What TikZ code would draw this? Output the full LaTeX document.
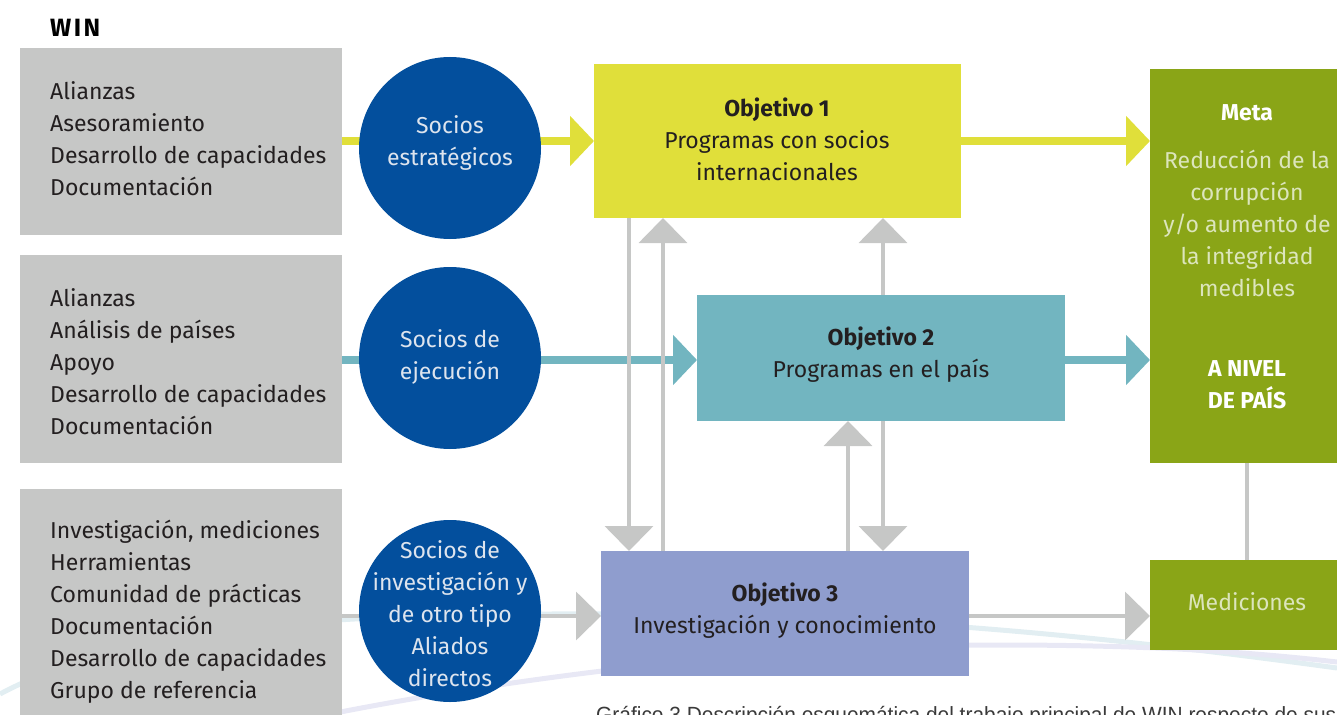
\documentclass[tikz,border=0pt]{standalone}
\usepackage{fontspec}
\setmainfont{Fira Sans}
\newfontfamily\capfont{Liberation Sans}
\usetikzlibrary{arrows.meta,calc}
\definecolor{boxgray}{HTML}{C6C7C6}
\definecolor{ycol}{HTML}{E0DF3A}
\definecolor{tcol}{HTML}{72B5C0}
\definecolor{lcol}{HTML}{8F9DCE}
\definecolor{gcol}{HTML}{8AA517}
\definecolor{ncol}{HTML}{034F9D}
\definecolor{darktxt}{HTML}{231F20}
\definecolor{circtxt}{HTML}{DDE4EE}
\definecolor{metatxt}{HTML}{DCE5BC}
\definecolor{bgblue}{HTML}{E2EEF2}
\definecolor{bglav}{HTML}{E8E8F5}
\definecolor{captxt}{HTML}{3A3A3A}
\tikzset{
  box/.style={draw=none, anchor=north west, inner sep=0pt, outer sep=0pt},
  circ/.style={circle, fill=ncol, draw=none, minimum size=182pt, inner sep=0pt, outer sep=0pt},
  bodytext/.style={inner sep=0pt, font=\fontsize{23}{32}\selectfont},
  listtext/.style={bodytext, anchor=west, align=left, text=darktxt},
  ctext/.style={bodytext, align=center, text=circtxt},
  otext/.style={bodytext, align=center, text=darktxt},
  mtext/.style={bodytext, align=center, text=metatxt},
  bigtip/.style={-{Triangle[width=49pt,length=24pt]}},
  yline/.style={draw=ycol, line width=8pt, bigtip},
  tline/.style={draw=tcol, line width=8pt, bigtip},
  hgline/.style={draw=boxgray, line width=4pt, -{Triangle[width=48pt,length=25pt]}},
  vgline/.style={draw=boxgray, line width=4pt, -{Triangle[width=48pt,length=25pt]}},
  plainline/.style={draw=boxgray, line width=4pt},
}
\begin{document}
\begin{tikzpicture}[x=1pt,y=-1pt]
\useasboundingbox (0,0) rectangle (1337,714);
\clip (0,0) rectangle (1337,714);
% background curves
\draw[bgblue, line width=5pt] (0,694) .. controls (120,630) and (300,615) .. (550,614) .. controls (800,613) and (1000,622) .. (1337,668);
\draw[bglav, line width=5pt] (320,716) .. controls (550,670) and (800,645) .. (1000,645) .. controls (1150,645) and (1250,652) .. (1337,662);
% title
\node[anchor=west, inner sep=0pt, font=\fontsize{25}{28}\bfseries\selectfont\addfontfeature{LetterSpace=10}] (win) at (50,28) {WIN};
% left boxes
\node[box, fill=boxgray, minimum width=322pt, minimum height=187pt] (g1) at (20,48) {};
\node[box, fill=boxgray, minimum width=322pt, minimum height=208pt] (g2) at (20,255) {};
\node[box, fill=boxgray, minimum width=322pt, minimum height=246pt] (g3) at (20,489) {};
% objective boxes
\node[box, fill=ycol, minimum width=367pt, minimum height=154pt] (o1) at (594,64) {};
\node[box, fill=tcol, minimum width=368pt, minimum height=126pt] (o2) at (697,295) {};
\node[box, fill=lcol, minimum width=368pt, minimum height=125pt] (o3) at (601,551) {};
% goal boxes
\node[box, fill=gcol, minimum width=194pt, minimum height=394pt] (meta) at (1150,69) {};
\node[box, fill=gcol, minimum width=194pt, minimum height=90pt] (med) at (1150,560) {};
% row coordinates
\coordinate (row1) at (0,141);
\coordinate (row2) at (0,360);
\coordinate (row3) at (0,616);
\coordinate (va) at (629,0);
\coordinate (vb) at (663,0);
\coordinate (vc) at (848,0);
\coordinate (vd) at (883,0);
% horizontal connectors
\draw[yline] (g1.east |- row1) -- (o1.west |- row1);
\draw[yline] (o1.east |- row1) -- (meta.west |- row1);
\draw[tline] (g2.east |- row2) -- (o2.west |- row2);
\draw[tline] (o2.east |- row2) -- (meta.west |- row2);
\draw[hgline] (g3.east |- row3) -- (o3.west |- row3);
\draw[hgline] (o3.east |- row3) -- (med.west |- row3);
\draw[plainline] (meta.south) -- (med.north);
% vertical connectors
\draw[vgline] (va |- o1.south) -- (va |- o3.north);
\draw[vgline] (vb |- o3.north) -- (vb |- o1.south);
\draw[vgline] (vd |- o2.north) -- (vd |- o1.south);
\draw[vgline] (vd |- o2.south) -- (vd |- o3.north);
\draw[vgline] (vc |- o3.north) -- (vc |- o2.south);
% circles
\node[circ] (c1) at (450,148) {};
\node[circ] (c2) at (450,358) {};
\node[circ] (c3) at (450,611) {};
% texts
\node[listtext] (t1) at (50,139) {Alianzas\\Asesoramiento\\Desarrollo de capacidades\\Documentación};
\node[listtext] (t2) at (50,362) {Alianzas\\Análisis de países\\Apoyo\\Desarrollo de capacidades\\Documentación};
\node[listtext] (t3) at (50,612) {Investigación, mediciones\\Herramientas\\Comunidad de prácticas\\Documentación\\Desarrollo de capacidades\\Grupo de referencia};
\node[ctext] (ct1) at (450,143) {Socios\\estratégicos};
\node[ctext] (ct2) at (450,357) {Socios de\\ejecución};
\node[ctext] (ct3) at (450,614) {Socios de\\investigación y\\de otro tipo\\Aliados\\directos};
\node[otext] (ot1) at (777,139) {\textbf{Objetivo 1}\\Programas con socios\\internacionales};
\node[otext] (ot2) at (881,355) {\textbf{Objetivo 2}\\Programas en el país};
\node[otext] (ot3) at (785,611) {\textbf{Objetivo 3}\\Investigación y conocimiento};
\node[mtext] (mt) at (1247,257) {\textcolor{white}{\textbf{Meta}}\\[16pt]Reducción de la\\corrupción\\y/o aumento de\\la integridad\\medibles\\[48pt]\textcolor{white}{\textbf{A NIVEL}}\\\textcolor{white}{\textbf{DE PAÍS}}};
\node[mtext] (medt) at (1247,602) {Mediciones};
% caption (cut off at the bottom, as in the reference)
\node[anchor=base west, inner sep=0pt, text=captxt] (cap) at (596,722) {\capfont\fontsize{22}{24}\selectfont\scalebox{0.95}[1]{Gráfico 3 Descripción esquemática del trabajo principal de WIN respecto de sus}};
\end{tikzpicture}
\end{document}
